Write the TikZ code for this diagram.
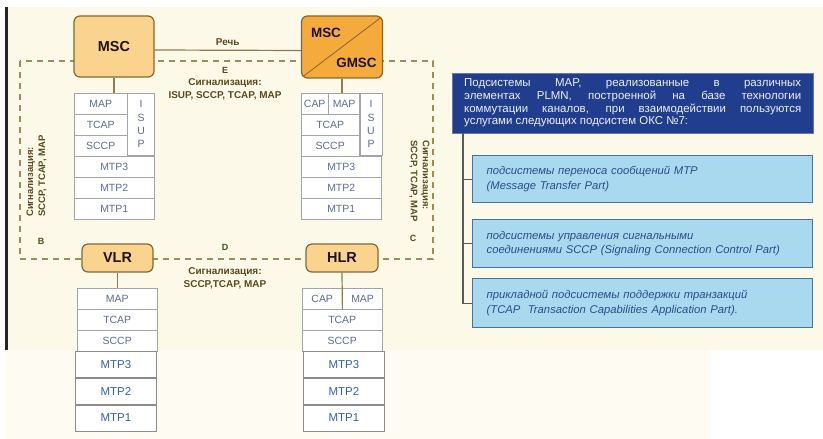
\documentclass[tikz,border=0pt]{standalone}
\usepackage{fontspec}
\setmainfont{Liberation Sans}
\usepackage{xcolor}
\usetikzlibrary{positioning}

\definecolor{paper}{HTML}{FCF9E9}
\definecolor{paperlow}{HTML}{FEFCF2}
\definecolor{boxfill}{HTML}{FAD48E}
\definecolor{gmscfill}{HTML}{F5AA3C}
\definecolor{boxline}{HTML}{8A6430}
\definecolor{olive}{HTML}{5A4A1E}
\definecolor{wire}{HTML}{8C7C52}
\definecolor{dashcol}{HTML}{A08A56}
\definecolor{cellline}{HTML}{A3A3AB}
\definecolor{celltext}{HTML}{5C6C94}
\definecolor{mtptext}{HTML}{3563A8}
\definecolor{navy}{HTML}{213E8E}
\definecolor{skyfill}{HTML}{A9D9EF}
\definecolor{skyline}{HTML}{47729E}
\definecolor{skytext}{HTML}{2C4B8A}

\begin{document}
\begin{tikzpicture}[x=1bp, y=-1bp,
		ne/.style={draw=boxline, line width=1.2bp, rounded corners=6bp, fill=boxfill, font=\fontsize{14.5}{16}\selectfont\bfseries, text=black!85!brown},
		cell/.style={draw=cellline, fill=white, inner sep=0pt, minimum height=20.67bp, font=\fontsize{10.5}{12}\selectfont, text=celltext},
		isup/.style={cell, align=center, minimum height=62bp, font=\fontsize{10.5}{13.5}\selectfont},
		low/.style={draw=black!45, line width=0.8bp, fill=white, inner sep=0pt, minimum width=81bp, minimum height=26bp, font=\fontsize{11.5}{13}\selectfont, text=mtptext},
		sig/.style={font=\fontsize{10}{13}\selectfont\bfseries, text=olive, align=center, inner sep=0pt},
		letter/.style={font=\fontsize{9}{10}\selectfont\bfseries, text=olive, inner sep=0pt},
		link/.style={draw=wire, line width=1.2bp},
		frame/.style={draw=dashcol, line width=1.1bp, dash pattern=on 6bp off 5bp},
		intro/.style={draw=navy!70!white, fill=navy, text=white!92!navy, anchor=north west, text width=337bp, inner xsep=12bp, inner ysep=4bp, minimum height=60bp, align=justify, font=\fontsize{11.5}{12.7}\selectfont},
		part/.style={draw=skyline, line width=1.3bp, fill=skyfill, text=skytext, anchor=north west, text width=312bp, inner xsep=13bp, minimum width=340bp, align=left, font=\fontsize{11.3}{14.5}\selectfont\itshape},
		tree/.style={draw=black!65, line width=1.1bp}]
	\useasboundingbox (0,0) rectangle (823,439);
	% paper
	\fill[white] (0,0) rectangle (823,439);
	\fill[paper] (5,7) rectangle (823,350);
	\fill[paperlow] (5,350) rectangle (710,439);
	\fill[black!85] (5,7) rectangle (7.5,350);

	% signalling frame between the network elements
	\draw[frame] (20,61) rectangle (433,259);

	% network elements
	\node[ne, minimum width=80bp, minimum height=61bp] (msc) at (114,46.5) {MSC};
	\node[ne, fill=gmscfill, minimum width=81bp, minimum height=62bp] (gmsc) at (342,47) {};
	\draw[boxline, line width=0.8bp] ([shift={(2bp,2bp)}]gmsc.south west) -- ([shift={(-2bp,-2bp)}]gmsc.north east);
	\node[font=\fontsize{13.5}{15}\selectfont\bfseries, text=black!85!brown] (gmsctop) at (326,33) {MSC};
	\node[font=\fontsize{13.5}{15}\selectfont\bfseries, text=black!85!brown] (gmscbot) at (356.5,63) {GMSC};
	\node[ne, minimum width=71bp, minimum height=28bp] (vlr) at (117.5,258) {VLR};
	\node[ne, minimum width=72bp, minimum height=28bp] (hlr) at (342,258) {HLR};

	\draw[link] ([yshift=-3.5bp]msc.east) -- node[sig, above=4bp] (speech) {Речь} ([yshift=-3.5bp]gmsc.west);

	% interface labels
	\node[letter] (ife) at (225,70) {E};
	\node[sig] (sige) at (225,89.5) {Сигнализация:\\ISUP, SCCP, TCAP, MAP};
	\node[letter] (ifd) at (225,247) {D};
	\node[sig] (sigd) at (225,278) {Сигнализация:\\SCCP,TCAP, MAP};
	\node[letter] (ifb) at (41,241) {B};
	\node[letter] (ifc) at (413,238) {C};
	\node[sig, font=\fontsize{9.5}{12}\selectfont\bfseries, align=left, rotate=90, anchor=west] (sigb) at (36.5,217) {Сигнализация:\\SCCP, TCAP, MAP};
	\node[sig, font=\fontsize{9.5}{12}\selectfont\bfseries, align=left, rotate=-90, anchor=west] (sigc) at (419.5,140) {Сигнализация:\\SCCP, TCAP, MAP};

	% MSC stack
	\node[cell, minimum width=53bp, anchor=north west] (mscmap) at (74,93) {MAP};
	\node[cell, minimum width=53bp, below=0pt of mscmap] (msctcap) {TCAP};
	\node[cell, minimum width=53bp, below=0pt of msctcap] (mscsccp) {SCCP};
	\node[isup, minimum width=27bp, anchor=north west] (mscisup) at (mscmap.north east) {I\\S\\U\\P};
	\node[cell, minimum width=80bp, anchor=north west] (mscmtp3) at (mscsccp.south west) {MTP3};
	\node[cell, minimum width=80bp, below=0pt of mscmtp3] (mscmtp2) {MTP2};
	\node[cell, minimum width=80bp, below=0pt of mscmtp2] (mscmtp1) {MTP1};
	\draw[link] (msc.south) -- (msc.south |- mscmap.north);

	% GMSC stack
	\node[cell, minimum width=27bp, anchor=north west] (gcap) at (301,93) {CAP};
	\node[cell, minimum width=31bp, right=0pt of gcap] (gmap) {MAP};
	\node[cell, minimum width=58bp, anchor=north west] (gtcap) at (gcap.south west) {TCAP};
	\node[cell, minimum width=58bp, below=0pt of gtcap] (gsccp) {SCCP};
	\node[isup, minimum width=22bp, anchor=north west] (gisup) at (gmap.north east) {I\\S\\U\\P};
	\node[cell, minimum width=80bp, anchor=north west] (gmtp3) at (gsccp.south west) {MTP3};
	\node[cell, minimum width=80bp, below=0pt of gmtp3] (gmtp2) {MTP2};
	\node[cell, minimum width=80bp, below=0pt of gmtp2] (gmtp1) {MTP1};
	\draw[link] (gmsc.south) -- (gmsc.south |- gcap.north);

	% VLR stack
	\node[cell, minimum width=80bp, anchor=north west] (vlrmap) at (77,288) {MAP};
	\node[cell, minimum width=80bp, below=0pt of vlrmap] (vlrtcap) {TCAP};
	\node[cell, minimum width=80bp, below=0pt of vlrtcap] (vlrsccp) {SCCP};
	\node[low, anchor=north west] (vlrmtp3) at (75,351) {MTP3};
	\node[low, below=0pt of vlrmtp3] (vlrmtp2) {MTP2};
	\node[low, below=0pt of vlrmtp2] (vlrmtp1) {MTP1};
	\draw[link] (vlr.south) -- (vlr.south |- vlrmap.north);

	% HLR stack
	\node[cell, minimum width=40bp, anchor=north west] (hlrcap) at (302,288) {CAP};
	\node[cell, minimum width=40bp, right=0pt of hlrcap] (hlrmap) {MAP};
	\node[cell, minimum width=80bp, anchor=north west] (hlrtcap) at (hlrcap.south west) {TCAP};
	\node[cell, minimum width=80bp, below=0pt of hlrtcap] (hlrsccp) {SCCP};
	\node[low, anchor=north west] (hlrmtp3) at (303,351) {MTP3};
	\node[low, below=0pt of hlrmtp3] (hlrmtp2) {MTP2};
	\node[low, below=0pt of hlrmtp2] (hlrmtp1) {MTP1};
	\draw[link] (hlr.south) -- (hlrcap.south east);

	% SS7 subsystems used by MAP
	\node[intro] (intro) at (452,73) {Подсистемы MAP, реализованные в различных\linebreak элементах PLMN, построенной на базе технологии\linebreak коммутации каналов, при взаимодействии пользуются\linebreak услугами следующих подсистем ОКС №7:};
	\node[part, minimum height=47bp] (mtp) at (472,155) {подсистемы переноса сообщений MTP\\(Message Transfer Part)};
	\node[part, minimum height=48bp] (sccp) at (472,219) {подсистемы управления сигнальными\\соединениями SCCP (Signaling Connection Control Part)};
	\node[part, minimum height=49bp] (tcap) at (472,278) {прикладной подсистемы поддержки транзакций\\(TCAP\ \ Transaction Capabilities Application Part).};
	\draw[tree] ([xshift=11bp]intro.south west) |- (mtp.west);
	\draw[tree] ([xshift=11bp]intro.south west) |- (sccp.west);
	\draw[tree] ([xshift=11bp]intro.south west) |- (tcap.west);
\end{tikzpicture}
\end{document}
